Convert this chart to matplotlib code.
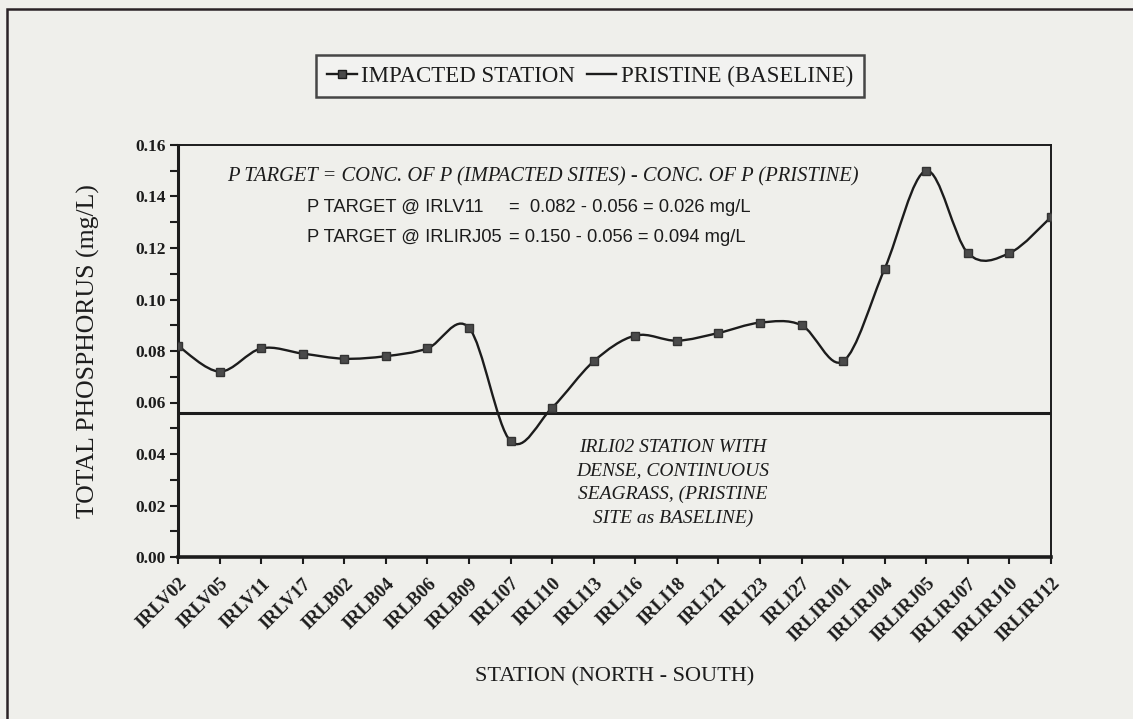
import numpy as np
import matplotlib
matplotlib.use("Agg")
import matplotlib.pyplot as plt
from matplotlib.path import Path
from matplotlib.patches import PathPatch, Rectangle
from matplotlib.lines import Line2D

# ── Data ────────────────────────────────────────────────────────────────────
stations = ["IRLV02", "IRLV05", "IRLV11", "IRLV17", "IRLB02", "IRLB04",
            "IRLB06", "IRLB09", "IRLI07", "IRLI10", "IRLI13", "IRLI16",
            "IRLI18", "IRLI21", "IRLI23", "IRLI27", "IRLIRJ01", "IRLIRJ04",
            "IRLIRJ05", "IRLIRJ07", "IRLIRJ10", "IRLIRJ12"]
impacted = [0.082, 0.072, 0.081, 0.079, 0.077, 0.078,
            0.081, 0.089, 0.045, 0.058, 0.076, 0.086,
            0.084, 0.087, 0.091, 0.090, 0.076, 0.112,
            0.150, 0.118, 0.118, 0.132]
pristine = 0.056
yticks = [0.00, 0.02, 0.04, 0.06, 0.08, 0.10, 0.12, 0.14, 0.16]

BG = "#efefeb"
INK = "#1c1c1c"
SERIF = "Liberation Serif"
SANS = "Liberation Sans"


def smooth_path(x, y):
    """Excel-like smoothed line: Catmull-Rom segments as cubic Beziers."""
    px = np.concatenate([[x[0]], x, [x[-1]]])
    py = np.concatenate([[y[0]], y, [y[-1]]])
    verts = [(x[0], y[0])]
    codes = [Path.MOVETO]
    for i in range(1, len(px) - 2):
        c1 = (px[i] + (px[i + 1] - px[i - 1]) / 6, py[i] + (py[i + 1] - py[i - 1]) / 6)
        c2 = (px[i + 1] - (px[i + 2] - px[i]) / 6, py[i + 1] - (py[i + 2] - py[i]) / 6)
        verts += [c1, c2, (px[i + 1], py[i + 1])]
        codes += [Path.CURVE4] * 3
    return Path(verts, codes)


fig = plt.figure(figsize=(11.33, 7.19), dpi=100)
fig.patch.set_facecolor(BG)
ax = fig.add_axes([178 / 1133, 1 - 557 / 719, 873 / 1133, 412 / 719])
ax.set_facecolor(BG)

x = np.arange(len(stations), dtype=float)
y = np.array(impacted)

ax.add_patch(PathPatch(smooth_path(x, y), facecolor="none", edgecolor=INK,
                       linewidth=1.7, zorder=3))
ax.plot(x, y, linestyle="none", marker="s", markersize=5.5, color="#4a4a4a",
        markeredgecolor="#333333", zorder=4)
ax.axhline(pristine, color=INK, linewidth=2.2, zorder=2)

ax.set_xlim(0, len(stations) - 1)
ax.set_ylim(0, 0.16)
ax.set_xticks(x)
ax.set_xticklabels(stations, rotation=45, ha="right", va="top",
                   rotation_mode="anchor", fontfamily=SERIF, fontweight="bold",
                   fontsize=13.5, color=INK)
ax.set_yticks(yticks)
ax.set_yticklabels([f"{v:.2f}" for v in yticks], fontfamily=SERIF,
                   fontweight="bold", fontsize=12.5, color=INK)
ax.set_yticks(np.arange(0.01, 0.16, 0.02), minor=True)
ax.tick_params(axis="both", which="both", direction="out", color=INK, width=1.5)
ax.tick_params(axis="y", which="major", length=6, pad=3)
ax.tick_params(axis="y", which="minor", length=6)
ax.tick_params(axis="x", which="major", length=5, pad=8)

for side, spine in ax.spines.items():
    spine.set_color(INK)
    spine.set_linewidth(1.4)
ax.spines["left"].set_linewidth(2.2)
ax.spines["bottom"].set_linewidth(2.6)

ax.set_ylabel("TOTAL PHOSPHORUS (mg/L)", fontfamily=SERIF, fontsize=18.5,
              color=INK, va="center")
ax.yaxis.set_label_coords(-0.103, 0.5)
ax.set_xlabel("STATION (NORTH - SOUTH)", fontfamily=SERIF, fontsize=16,
              color=INK, va="center")
ax.xaxis.set_label_coords(0.5, -0.291)

# ── Annotations ─────────────────────────────────────────────────────────────
ax.text(1.18, 0.1478, "P TARGET = CONC. OF P (IMPACTED SITES) - CONC. OF P (PRISTINE)",
        fontfamily=SERIF, fontstyle="italic", fontsize=14.8, color=INK,
        ha="left", va="center")
ax.text(3.1, 0.1357, "P TARGET @ IRLV11", fontfamily=SANS, fontsize=13.2,
        color=INK, ha="left", va="center")
ax.text(7.97, 0.1357, "=  0.082 - 0.056 = 0.026 mg/L", fontfamily=SANS,
        fontsize=13.2, color=INK, ha="left", va="center")
ax.text(3.1, 0.1241, "P TARGET @ IRLIRJ05", fontfamily=SANS, fontsize=13.2,
        color=INK, ha="left", va="center")
ax.text(7.97, 0.1241, "= 0.150 - 0.056 = 0.094 mg/L", fontfamily=SANS,
        fontsize=13.2, color=INK, ha="left", va="center")
ax.text(11.9, 0.0287, "IRLI02 STATION WITH\nDENSE, CONTINUOUS\nSEAGRASS, (PRISTINE\nSITE as BASELINE)",
        fontfamily=SERIF, fontstyle="italic", fontsize=14, color=INK,
        ha="center", va="center", linespacing=1.5)

# ── Legend ──────────────────────────────────────────────────────────────────
handles = [
    Line2D([], [], color=INK, linewidth=1.7, marker="s", markersize=5.5,
           markerfacecolor="#4a4a4a"),
    Line2D([], [], color=INK, linewidth=1.7),
]
leg = fig.legend(handles, ["IMPACTED STATION", "PRISTINE (BASELINE)"],
                 loc="center", bbox_to_anchor=(590 / 1133, 1 - 76 / 719), ncol=2,
                 frameon=True, fancybox=False, handlelength=1.3,
                 handletextpad=0.2, columnspacing=0.5, borderpad=0.45,
                 prop={"family": SERIF, "size": 16.5})
leg.get_frame().set_edgecolor(INK)
leg.get_frame().set_linewidth(1.8)
leg.get_frame().set_facecolor("#f4f4f2")
for t in leg.get_texts():
    t.set_color(INK)

# outer page frame (only top and left edges lie inside the scan)
fig.add_artist(Rectangle((7 / 1133, -0.1), 1.2, (719 - 9) / 719 + 0.1,
                         transform=fig.transFigure, fill=False,
                         edgecolor="#2a2226", linewidth=1.8))

fig.savefig("out.png", dpi=100, facecolor=BG)
